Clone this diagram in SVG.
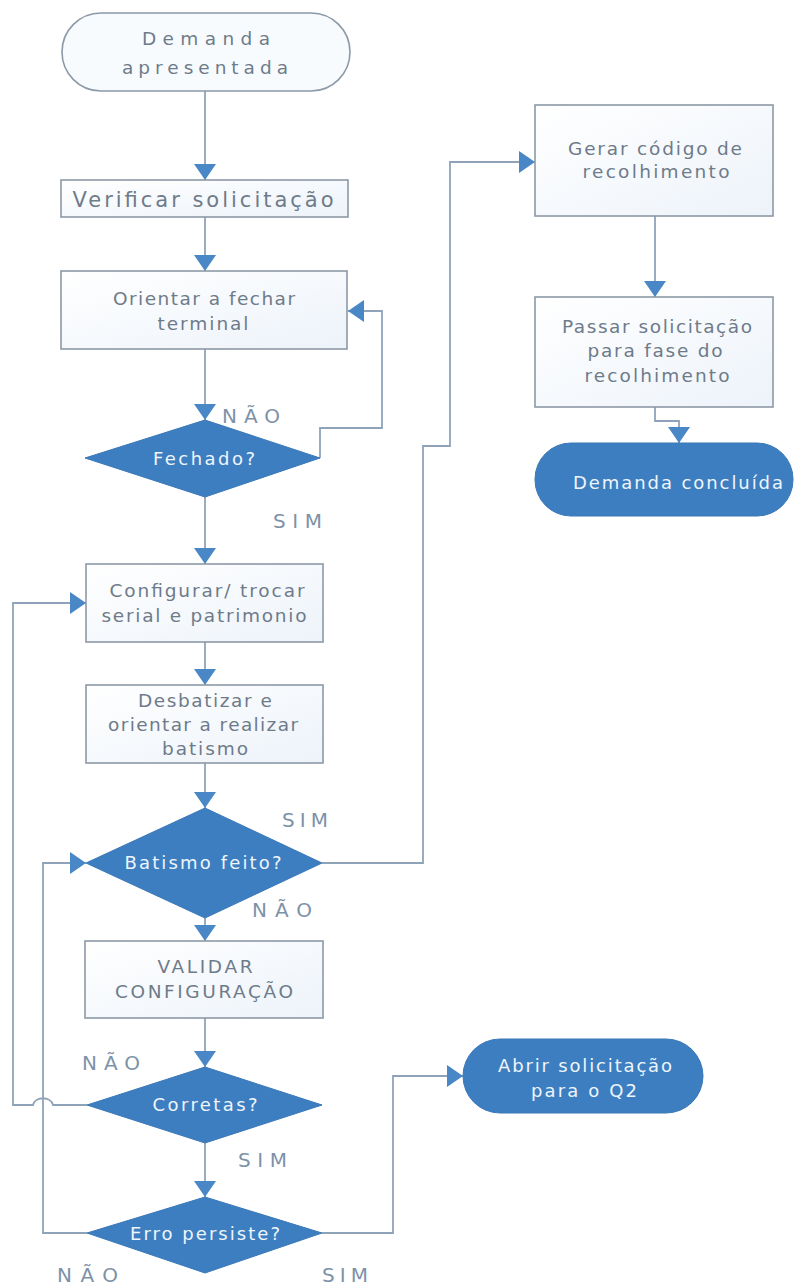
<svg xmlns="http://www.w3.org/2000/svg" width="811" height="1288" viewBox="0 0 811 1288">
  <style>
    .box { fill: url(#boxFill); stroke: #8c99a7; stroke-width: 1.6; }
    .blue { fill: #3d7ec0; stroke: #3a78b8; stroke-width: 1; }
    .txt { font-family: "DejaVu Sans", "Open Sans", sans-serif; font-size: 18.5px; fill: #6e7b8a; text-anchor: middle; }
    .big { font-size: 21px; }
    .wtxt { font-family: "DejaVu Sans", "Open Sans", sans-serif; font-size: 18px; fill: #eef5fc; text-anchor: middle; }
    .lbl { font-family: "DejaVu Sans", "Open Sans", sans-serif; font-size: 20px; fill: #7d92a8; }
    .conn { fill: none; stroke: #8fa3b8; stroke-width: 1.8; }
  </style>
  <defs>
    <linearGradient id="boxFill" x1="0" y1="0" x2="1" y2="1">
      <stop offset="0" stop-color="#ffffff"/>
      <stop offset="1" stop-color="#edf3fa"/>
    </linearGradient>
    <marker id="arrow" markerUnits="userSpaceOnUse" markerWidth="16" markerHeight="22" viewBox="0 0 16 22" refX="16" refY="11" orient="auto">
      <path d="M0,0 L16,11 L0,22 Z" fill="#4a87c6"/>
    </marker>
  </defs>
  <rect width="811" height="1288" fill="#ffffff"/>

  <!-- connectors -->
  <g id="connectors">
    <path class="conn" d="M205,91 V180" marker-end="url(#arrow)"/>
    <path class="conn" d="M205,217 V271" marker-end="url(#arrow)"/>
    <path class="conn" d="M205,349 V420" marker-end="url(#arrow)"/>
    <path class="conn" d="M320,458 V428 H382 V311 H348" marker-end="url(#arrow)"/>
    <path class="conn" d="M205,497 V564" marker-end="url(#arrow)"/>
    <path class="conn" d="M205,642 V685" marker-end="url(#arrow)"/>
    <path class="conn" d="M205,763 V808" marker-end="url(#arrow)"/>
    <path class="conn" d="M322,863 H423 V446 H450 V162 H535" marker-end="url(#arrow)"/>
    <path class="conn" d="M205,918 V941" marker-end="url(#arrow)"/>
    <path class="conn" d="M205,1018 V1067" marker-end="url(#arrow)"/>
    <path class="conn" d="M87,1105 H53 C51,1096 35,1096 33,1105 H13 V603 H86" marker-end="url(#arrow)"/>
    <path class="conn" d="M205,1143 V1197" marker-end="url(#arrow)"/>
    <path class="conn" d="M87,1233 H43 V863 H86" marker-end="url(#arrow)"/>
    <path class="conn" d="M322,1233 H393 V1076 H463" marker-end="url(#arrow)"/>
    <path class="conn" d="M655,216 V297" marker-end="url(#arrow)"/>
    <path class="conn" d="M655,407 V421 H679 V443" marker-end="url(#arrow)"/>
  </g>

  <g id="start">
    <rect x="62" y="13" width="288" height="78" rx="39" fill="#f8fbfe" stroke="#8c99a7" stroke-width="1.6"/>
    <text class="txt" x="206" y="45" font-size="23" textLength="128" lengthAdjust="spacing">Demanda</text>
    <text class="txt" x="205" y="74" font-size="23" textLength="166" lengthAdjust="spacing">apresentada</text>
  </g>

  <g id="verificar">
    <rect class="box" x="61" y="180" width="287" height="37"/>
    <text class="txt big" x="203" y="207" textLength="261" lengthAdjust="spacing">Verificar solicitação</text>
  </g>

  <g id="orientar">
    <rect class="box" x="61" y="271" width="286" height="78"/>
    <text class="txt" x="204" y="305" textLength="182" lengthAdjust="spacing">Orientar a fechar</text>
    <text class="txt" x="203" y="330" textLength="91" lengthAdjust="spacing">terminal</text>
  </g>

  <g id="fechado">
    <polygon class="blue" points="205,420 320,458 205,497 85,458"/>
    <text class="wtxt" x="204" y="465" textLength="102" lengthAdjust="spacing">Fechado?</text>
    <text class="lbl" x="222" y="423" textLength="58" lengthAdjust="spacing">NÃO</text>
    <text class="lbl" x="273" y="528" textLength="49" lengthAdjust="spacing">SIM</text>
  </g>

  <g id="configurar">
    <rect class="box" x="86" y="564" width="237" height="78"/>
    <text class="txt" x="207" y="597" textLength="195" lengthAdjust="spacing">Configurar/ trocar</text>
    <text class="txt" x="204" y="622" textLength="205" lengthAdjust="spacing">serial e patrimonio</text>
  </g>

  <g id="desbatizar">
    <rect class="box" x="86" y="685" width="237" height="78"/>
    <text class="txt" x="205" y="707" textLength="134" lengthAdjust="spacing">Desbatizar e</text>
    <text class="txt" x="203" y="731" textLength="190" lengthAdjust="spacing">orientar a realizar</text>
    <text class="txt" x="205" y="755" textLength="86" lengthAdjust="spacing">batismo</text>
  </g>

  <g id="batismo">
    <polygon class="blue" points="205,808 322,863 205,918 86,863"/>
    <text class="wtxt" x="203" y="869" textLength="157" lengthAdjust="spacing">Batismo feito?</text>
    <text class="lbl" x="282" y="827" textLength="46" lengthAdjust="spacing">SIM</text>
    <text class="lbl" x="252" y="917" textLength="60" lengthAdjust="spacing">NÃO</text>
  </g>

  <g id="validar">
    <rect class="box" x="85" y="941" width="238" height="77"/>
    <text class="txt" x="205" y="973" textLength="95" lengthAdjust="spacing">VALIDAR</text>
    <text class="txt" x="204" y="998" textLength="178" lengthAdjust="spacing">CONFIGURAÇÃO</text>
  </g>

  <g id="corretas">
    <polygon class="blue" points="205,1067 322,1105 205,1143 87,1105"/>
    <text class="wtxt" x="205" y="1111" textLength="105" lengthAdjust="spacing">Corretas?</text>
    <text class="lbl" x="82" y="1070" textLength="58" lengthAdjust="spacing">NÃO</text>
    <text class="lbl" x="238" y="1167" textLength="49" lengthAdjust="spacing">SIM</text>
  </g>

  <g id="erro">
    <polygon class="blue" points="205,1197 322,1233 205,1273 87,1233"/>
    <text class="wtxt" x="205" y="1240" textLength="150" lengthAdjust="spacing">Erro persiste?</text>
    <text class="lbl" x="57" y="1282" textLength="61" lengthAdjust="spacing">NÃO</text>
    <text class="lbl" x="322" y="1282" textLength="46" lengthAdjust="spacing">SIM</text>
  </g>

  <g id="abrir">
    <rect class="blue" x="463" y="1039" width="240" height="74" rx="37"/>
    <text class="wtxt" x="585" y="1072" textLength="174" lengthAdjust="spacing">Abrir solicitação</text>
    <text class="wtxt" x="584" y="1097" textLength="106" lengthAdjust="spacing">para o Q2</text>
  </g>

  <g id="gerar">
    <rect class="box" x="535" y="105" width="238" height="111"/>
    <text class="txt" x="655" y="155" textLength="174" lengthAdjust="spacing">Gerar código de</text>
    <text class="txt" x="656" y="178" textLength="147" lengthAdjust="spacing">recolhimento</text>
  </g>

  <g id="passar">
    <rect class="box" x="535" y="297" width="238" height="110"/>
    <text class="txt" x="657" y="333" textLength="190" lengthAdjust="spacing">Passar solicitação</text>
    <text class="txt" x="655" y="357" textLength="135" lengthAdjust="spacing">para fase do</text>
    <text class="txt" x="657" y="382" textLength="145" lengthAdjust="spacing">recolhimento</text>
  </g>

  <g id="concluida">
    <rect class="blue" x="535" y="443" width="258" height="73" rx="36"/>
    <text class="wtxt" x="678" y="489" textLength="210" lengthAdjust="spacing">Demanda concluída</text>
  </g>
</svg>
